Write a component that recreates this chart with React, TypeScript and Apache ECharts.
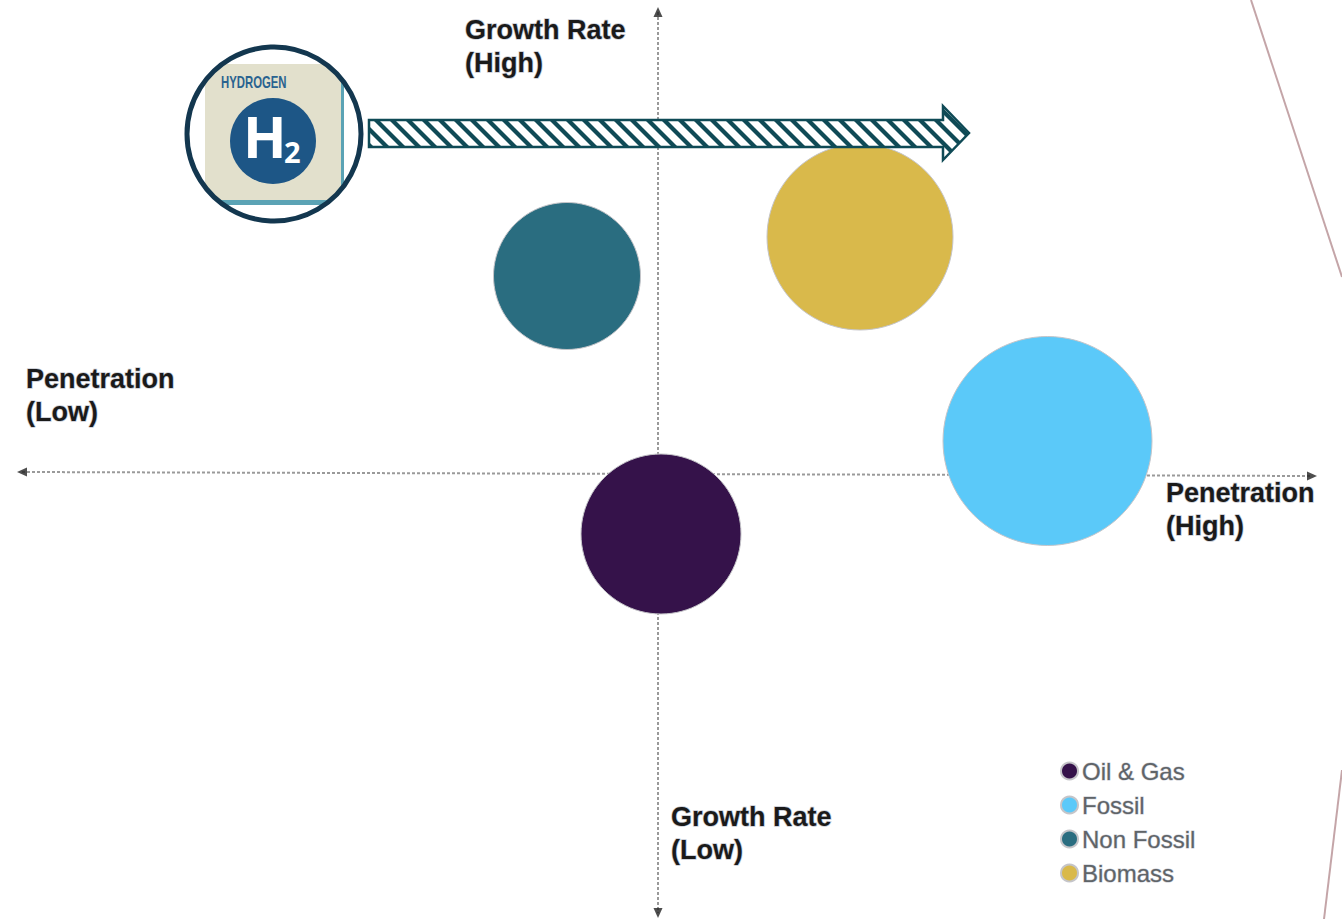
import React, { useEffect, useRef } from "react";
import * as echarts from "echarts";

const WIDTH = 1342;
const HEIGHT = 919;

const categories = ["Oil & Gas", "Fossil", "Non Fossil", "Biomass"];
const penetration = [3, 389.5, -91, 202];
const growth = [-61, 32, 197, 236];
const bubbleDiameter = [160, 209, 147, 186];
const colors = ["#35124a", "#5bc9f9", "#2a6d80", "#d9b94b"];

const xRange = [-658, 684];
const yRange = [-446, 473];

const horizontalAxisEnds = [[-636, 1], [654, -3]];
const verticalAxisEnds = [[0, 461], [0, -440]];
const arrowTips = [
  { at: [-636, 1], rotate: 90 },
  { at: [654, -3], rotate: -90 },
  { at: [0, 461], rotate: 0 },
  { at: [0, -440], rotate: 180 },
];

const FONT = "'Liberation Sans', Arial, sans-serif";

function makeHatch(): HTMLCanvasElement {
  const c = document.createElement("canvas");
  c.width = 16;
  c.height = 16;
  const g = c.getContext("2d")!;
  g.fillStyle = "#ffffff";
  g.fillRect(0, 0, 16, 16);
  g.strokeStyle = "#0f4a56";
  g.lineWidth = 4.2;
  g.lineCap = "square";
  for (const o of [-16, 0, 16]) {
    g.beginPath();
    g.moveTo(o, 0);
    g.lineTo(o + 16, 16);
    g.stroke();
  }
  return c;
}

function axisText(x: number, y: number, text: string) {
  return {
    type: "text",
    x,
    y,
    z: 20,
    style: {
      text,
      font: `bold 27px ${FONT}`,
      lineHeight: 33,
      fill: "#1a1a1a",
      stroke: "#c9ccd4",
      lineWidth: 1.5,
      textAlign: "left",
      textVerticalAlign: "top",
    },
  };
}

export default function App() {
  const ref = useRef<HTMLDivElement>(null);

  useEffect(() => {
    const chart = echarts.init(ref.current!, undefined, { renderer: "svg" });
    const axisLineStyle = { color: "#9a9a9a", type: [3, 2] as number[], width: 2 };
    chart.setOption({
      animation: false,
      backgroundColor: "#ffffff",
      grid: { left: 0, right: 0, top: 0, bottom: 0 },
      xAxis: { type: "value", min: xRange[0], max: xRange[1], show: false },
      yAxis: { type: "value", min: yRange[0], max: yRange[1], show: false },
      legend: {
        data: categories,
        orient: "vertical",
        left: 1055,
        top: 753,
        itemWidth: 17,
        itemHeight: 17,
        itemGap: 8,
        icon: "circle",
        selectedMode: false,
        textStyle: {
          fontFamily: FONT,
          fontSize: 24,
          color: "#5f6468",
          lineHeight: 26,
          padding: [0, 0, 0, -1],
          textBorderColor: "#c9ccd4",
          textBorderWidth: 1,
        },
      },
      series: [
        {
          type: "scatter",
          name: "axes",
          silent: true,
          z: 1,
          symbol: "triangle",
          symbolSize: [9, 10],
          itemStyle: { color: "#222222" },
          data: arrowTips.map((t) => ({ value: t.at, symbolRotate: t.rotate })),
          markLine: {
            z: 1,
            silent: true,
            animation: false,
            symbol: ["none", "none"],
            label: { show: false },
            lineStyle: axisLineStyle,
            data: [
              [{ coord: horizontalAxisEnds[0] }, { coord: horizontalAxisEnds[1] }],
              [{ coord: verticalAxisEnds[0] }, { coord: verticalAxisEnds[1] }],
            ],
          },
        },
        ...categories.map((name, i) => ({
          type: "scatter",
          name,
          z: 3,
          silent: true,
          symbol: "circle",
          symbolSize: bubbleDiameter[i],
          itemStyle: {
            color: colors[i],
            opacity: 1,
            borderColor: "#c5c5c9",
            borderWidth: 1,
          },
          data: [[penetration[i], growth[i]]],
        })),
      ],
      graphic: [
        { type: "polyline", z: 5, shape: { points: [[1251, 0], [1342, 277]] }, style: { stroke: "#c4a5a8", lineWidth: 2, fill: "none" } },
        { type: "polyline", z: 5, shape: { points: [[1342, 770], [1324, 919]] }, style: { stroke: "#c4a5a8", lineWidth: 2, fill: "none" } },

        axisText(465, 13, "Growth Rate\n(High)"),
        axisText(26, 362, "Penetration\n(Low)"),
        axisText(1166, 476, "Penetration\n(High)"),
        axisText(671, 800, "Growth Rate\n(Low)"),

        { type: "circle", z: 10, shape: { cx: 274, cy: 134, r: 87 }, style: { fill: "#ffffff" } },
        { type: "rect", z: 11, shape: { x: 208, y: 67, width: 136, height: 138, r: 8 }, style: { fill: "#5ba3b5" } },
        { type: "rect", z: 12, shape: { x: 205, y: 64, width: 136, height: 136, r: [0, 0, 8, 0] }, style: { fill: "#e2e0cc" } },
        { type: "circle", z: 13, shape: { cx: 273, cy: 141, r: 43 }, style: { fill: "#1d5686" } },
        { type: "text", z: 14, x: 221, y: 82, scaleX: 0.71, style: { text: "HYDROGEN", font: `bold 16px ${FONT}`, fill: "#2a6390", textAlign: "left", textVerticalAlign: "middle" } },
        { type: "text", z: 14, x: 243, y: 136, style: { text: "H", font: "bold 57px 'Open Sans', sans-serif", fill: "#ffffff", textAlign: "left", textVerticalAlign: "middle" } },
        { type: "text", z: 14, x: 284, y: 151, style: { text: "2", font: "bold 29px 'Open Sans', sans-serif", fill: "#ffffff", textAlign: "left", textVerticalAlign: "middle" } },
        { type: "ring", z: 15, shape: { cx: 274, cy: 134, r: 100, r0: 87 }, style: { fill: "#ffffff" } },
        { type: "circle", z: 16, shape: { cx: 274, cy: 134, r: 87 }, style: { fill: "none", stroke: "#13374f", lineWidth: 5 } },

        {
          type: "polygon",
          z: 17,
          shape: {
            points: [[369, 120], [943, 120], [943, 106], [969, 133], [943, 160], [943, 147], [369, 147]],
          },
          style: {
            fill: { image: makeHatch(), repeat: "repeat" },
            stroke: "#0f4a56",
            lineWidth: 2.5,
          },
        },
      ],
    });
    return () => chart.dispose();
  }, []);

  return (
    <div
      ref={ref}
      style={{ position: "fixed", left: 0, top: 0, width: WIDTH, height: HEIGHT }}
    />
  );
}
